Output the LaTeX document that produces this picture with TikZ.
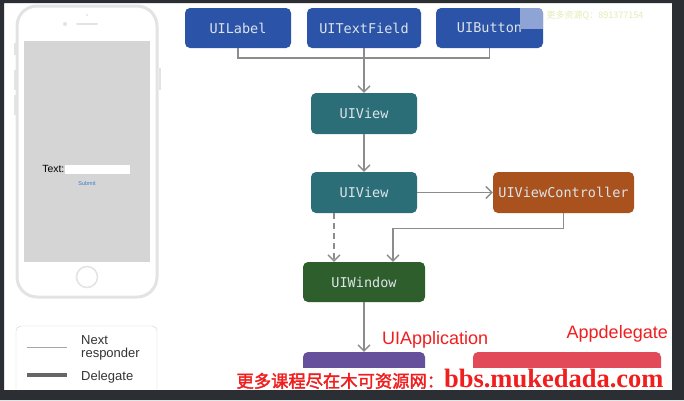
\documentclass[tikz,border=0pt]{standalone}
\usepackage{fontspec}
\setmainfont{Liberation Sans}
\newfontfamily\boxmono{DejaVu Sans Mono}
\newfontfamily\cjkfont[AutoFakeBold=2]{Noto Sans CJK SC}
\newfontfamily\wmserif{Liberation Serif}
\usetikzlibrary{arrows.meta,positioning}
\definecolor{rcdark}{HTML}{2B2F33}
\definecolor{rcgray}{HTML}{8C8C8C}
\definecolor{rctext}{HTML}{DCE3EA}
\definecolor{rcbluefill}{HTML}{2B53A7}
\definecolor{rctealfill}{HTML}{2C6E78}
\definecolor{rcorangefill}{HTML}{A9521E}
\definecolor{rcgreenfill}{HTML}{2E5E2C}
\definecolor{rcpurplefill}{HTML}{67509B}
\definecolor{rcpinkfill}{HTML}{E24A5A}
\definecolor{rcglarefill}{HTML}{8EA4D4}
\definecolor{rcredtext}{HTML}{F01E1E}
\definecolor{rcpale}{HTML}{E2EDB4}
\definecolor{rcphoneline}{HTML}{E3E3E3}
\definecolor{rcscreen}{HTML}{D5D5D5}
\definecolor{rcsubmit}{HTML}{3B7BD0}
\tikzset{
rcbox/.style={rectangle,rounded corners=5pt,inner sep=0pt,minimum height=40pt,text=rctext,font=\boxmono\fontsize{13.5}{14}\selectfont},
rcleaf/.style={rcbox,fill=rcbluefill},
rcview/.style={rcbox,fill=rctealfill,minimum width=106pt,minimum height=41pt},
rccontroller/.style={rcbox,fill=rcorangefill,minimum width=141pt,minimum height=41pt},
rcwindow/.style={rcbox,fill=rcgreenfill,minimum width=122pt},
rcapp/.style={rcbox,fill=rcpurplefill,minimum width=122pt},
rcdelegate/.style={rcbox,fill=rcpinkfill,minimum width=188pt},
rcline/.style={draw=rcgray,line width=1.3pt},
rcarr/.style={rcline,-{Straight Barb[length=6pt,width=12pt]}},
rcdash/.style={rcarr,dash pattern=on 6pt off 4pt},
rcredlabel/.style={text=rcredtext,font=\fontsize{18}{18}\selectfont,inner sep=0pt},
rcphone/.style={draw=rcphoneline},
rclegendtext/.style={text=black!80,font=\fontsize{13}{13.5}\selectfont,align=left,inner sep=0pt,anchor=west},
rcwatermark/.style={fill=white,text=rcredtext,inner sep=1pt}
}
\begin{document}
\begin{tikzpicture}[x=1pt,y=1pt]
\useasboundingbox (0,0) rectangle (684,-400);
\fill[white] (0,0) rectangle (684,-400);
% phone
\draw[rcphone,line width=3pt,rounded corners=20pt] (17,-6) rectangle (157,-297);
\fill[rcscreen] (24,-41) rectangle (150,-262);
\draw[rcphone,line width=2pt,line cap=round] (77,-24) -- (97,-24);
\fill[rcphoneline] (65,-24) circle (2);
\fill[rcphoneline] (87,-15) circle (1.2);
\draw[rcphone,line width=1.5pt] (87,-277) circle (10.5);
\draw[rcphone,line width=2pt] (14.5,-43) -- (14.5,-55) (14.5,-70) -- (14.5,-90) (14.5,-95) -- (14.5,-115) (159.5,-68) -- (159.5,-90);
\node[inner sep=0pt,font=\fontsize{10.4}{11}\selectfont,anchor=east] (textlbl) at (64.5,-169) {Text:};
\fill[white] (65,-165) rectangle (130,-174);
\node[inner sep=0pt,text=rcsubmit,font=\fontsize{5.5}{6}\selectfont] (submit) at (87,-184) {Submit};
% responder chain
\node[rcleaf,minimum width=106pt] (uilabel) at (238,-28) {UILabel};
\node[rcleaf,minimum width=114pt] (uitextfield) at (364,-28) {UITextField};
\node[rcleaf,minimum width=107pt] (uibutton) at (489.5,-28) {UIButton};
\begin{scope}
\clip[rounded corners=5pt] (uibutton.south west) rectangle (uibutton.north east);
\fill[rcglarefill] ([xshift=-23pt]uibutton.north east) rectangle ([yshift=-21pt]uibutton.north east);
\end{scope}
\node[inner sep=0pt,text=rcpale,font=\cjkfont\fontsize{9}{9}\selectfont] (qq) at (595,-16) {更多资源Q：891377154};
\node[rcview] (uiview) at (364,-113.5) {UIView};
\node[rcview] (superview) at (364,-192.5) {UIView};
\node[rccontroller] (controller) at (563.5,-192.5) {UIViewController};
\node[rcwindow] (uiwindow) at (364,-282) {UIWindow};
\node[rcapp] (uiapplication) at (364,-372) {};
\node[rcdelegate] (appdelegate) at (567,-372) {};
\node[rcredlabel,anchor=west] (applbl) at (382,-340) {UIApplication};
\node[rcredlabel,anchor=east] (delegatelbl) at (668,-334) {Appdelegate};
\coordinate (join) at (364,-58);
\draw[rcline] (uilabel.south) |- (join) -| (uibutton.south);
\draw[rcarr] (uitextfield.south) -- (uiview.north);
\draw[rcarr] (uiview.south) -- (superview.north);
\draw[rcarr] (superview.east) -- (controller.west);
\draw[rcdash] ([xshift=-30pt]superview.south) -- ([xshift=-30pt]uiwindow.north);
\draw[rcarr] (controller.south) -- ++(0,-15) -| ([xshift=29pt]uiwindow.north);
\draw[rcarr] (uiwindow.south) -- (uiapplication.north);
% legend
\draw[draw=black!18,rounded corners=5pt] (16,-326) rectangle (157,-398);
\coordinate (nextstart) at (27,-347);
\coordinate (delstart) at (27,-375);
\draw[draw=black!35,line width=1pt] (nextstart) -- ++(40,0);
\draw[draw=black!60,line width=3.5pt] (delstart) -- ++(40,0);
\node[rclegendtext] (nextlbl) at (81,-348) {Next\\responder};
\node[rclegendtext] (delegatekey) at (81,-377) {Delegate};
% watermark
\node[rcwatermark] (watermark) at (450,-379) {{\cjkfont\bfseries\fontsize{17.3}{18}\selectfont 更多课程尽在木可资源网：}{\wmserif\bfseries\fontsize{26.5}{26}\selectfont bbs.mukedada.com}};
% frame
\fill[rcdark,even odd rule] (0,0) rectangle (684,-400) (4,-3) rectangle (672,-390);
\end{tikzpicture}
\end{document}
